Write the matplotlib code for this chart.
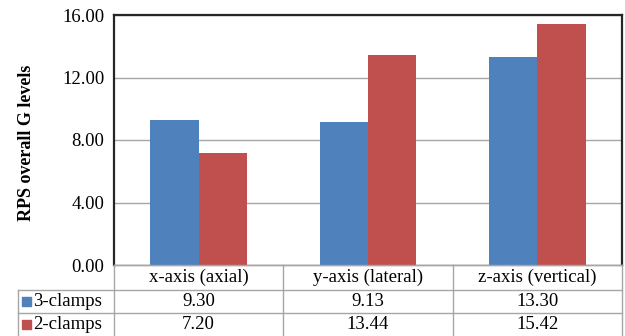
import matplotlib
matplotlib.use("Agg")
import matplotlib.pyplot as plt
from matplotlib.patches import Rectangle
from matplotlib.lines import Line2D

categories = ["x-axis (axial)", "y-axis (lateral)", "z-axis (vertical)"]
series_names = ["3-clamps", "2-clamps"]
three_clamps = [9.30, 9.13, 13.30]
two_clamps = [7.20, 13.44, 15.42]
y_ticks = [0, 4, 8, 12, 16]
y_label = "RPS overall G levels"

colors = ["#4F81BD", "#C0504D"]
grid_color = "#A6A6A6"
frame_color = "#262626"
fs = 13.5

plt.rcParams["font.family"] = ["Liberation Serif", "DejaVu Serif"]

W, H = 625, 336
fig = plt.figure(figsize=(W / 100, H / 100), dpi=100)

# plot area in pixel coordinates
pl, pr, pt, pb = 114, 622, 15, 265
ax = fig.add_axes([pl / W, 1 - pb / H, (pr - pl) / W, (pb - pt) / H])

n = len(categories)
bar_w = 1 / 3.5  # Excel-style 150% gap width
xs = list(range(n))
ax.bar([x - bar_w / 2 for x in xs], three_clamps, width=bar_w, color=colors[0], zorder=3)
ax.bar([x + bar_w / 2 for x in xs], two_clamps, width=bar_w, color=colors[1], zorder=3)

ax.set_xlim(-0.5, n - 0.5)
ax.set_ylim(0, 16)
ax.set_yticks(y_ticks)
ax.set_yticklabels([f"{v:.2f}" for v in y_ticks], fontsize=fs)
ax.set_xticks([])
ax.tick_params(axis="y", length=0, pad=7)
ax.yaxis.grid(True, color=grid_color, linewidth=1, zorder=0)
for side in ("top", "left", "right"):
    ax.spines[side].set_color(frame_color)
    ax.spines[side].set_linewidth(1.6)
ax.spines["bottom"].set_color(grid_color)
ax.spines["bottom"].set_linewidth(1)
ax.set_ylabel(y_label, fontsize=13, fontweight="bold")
ax.yaxis.set_label_coords(-(114 - 27) / (pr - pl), 0.49)
ax.yaxis.label.set_va("center")

# data table below the plot, drawn on an overlay in pixel coordinates
tab = fig.add_axes([0, 0, 1, 1], facecolor="none")
tab.set_xlim(0, W)
tab.set_ylim(H, 0)
tab.axis("off")

col_edges = [pl + (pr - pl) * i / n for i in range(n + 1)]
row_edges = [265, 290, 313, 337]
left_col = 18
lw = 1
for e in col_edges:
    tab.add_line(Line2D([e, e], [row_edges[0], H + 1], color=grid_color, lw=lw))
tab.add_line(Line2D([left_col, left_col], [row_edges[1], H + 1], color=grid_color, lw=lw))
tab.add_line(Line2D([col_edges[0], col_edges[-1]], [row_edges[0], row_edges[0]], color=grid_color, lw=lw))
for r in row_edges[1:3]:
    tab.add_line(Line2D([left_col, col_edges[-1]], [r, r], color=grid_color, lw=lw))

for i, cat in enumerate(categories):
    cx = (col_edges[i] + col_edges[i + 1]) / 2
    tab.text(cx, (row_edges[0] + row_edges[1]) / 2, cat, ha="center", va="center", fontsize=fs)

for j, (name, vals) in enumerate(zip(series_names, [three_clamps, two_clamps])):
    cy = (row_edges[j + 1] + row_edges[j + 2]) / 2 - 0.5
    tab.add_patch(Rectangle((22, cy - 4.5), 9, 9, color=colors[j]))
    tab.text(33, cy, name, ha="left", va="center", fontsize=fs)
    for i, v in enumerate(vals):
        cx = (col_edges[i] + col_edges[i + 1]) / 2
        tab.text(cx, cy, f"{v:.2f}", ha="center", va="center", fontsize=fs)

fig.savefig("out.png", dpi=100)
